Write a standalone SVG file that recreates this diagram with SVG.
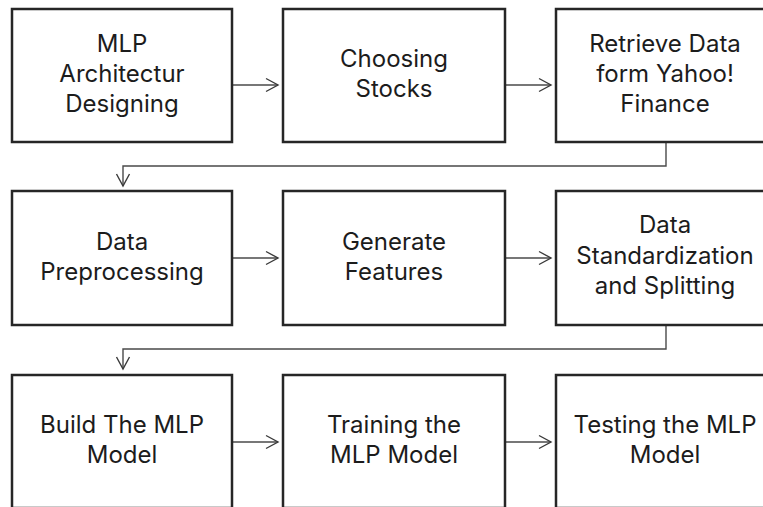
<svg xmlns="http://www.w3.org/2000/svg" width="763" height="507" viewBox="0 0 763 507">
<defs>
<style>
.box{fill:#ffffff;stroke:#262626;stroke-width:2.5}
.lbl{font-family:"Inter","Noto Sans","Liberation Sans",sans-serif;font-size:24px;fill:#1c1c1c;text-anchor:middle}
.conn{fill:none;stroke:#4a4a4a;stroke-width:1.4}
</style>
<marker id="arr" markerUnits="userSpaceOnUse" markerWidth="16" markerHeight="16" viewBox="0 0 16 16" refX="13" refY="8" orient="auto">
<path d="M1,1.5 L13,8 L1,14.5" fill="none" stroke="#3a3a3a" stroke-width="1.4"/>
</marker>
</defs>
<rect width="763" height="507" fill="#ffffff"/>
<g id="connectors">
<line class="conn" x1="232" y1="85" x2="278" y2="85" marker-end="url(#arr)"/>
<line class="conn" x1="505" y1="85" x2="551" y2="85" marker-end="url(#arr)"/>
<polyline class="conn" points="666,142 666,166 123,166 123,186" marker-end="url(#arr)"/>
<line class="conn" x1="232" y1="258" x2="278" y2="258" marker-end="url(#arr)"/>
<line class="conn" x1="505" y1="258" x2="551" y2="258" marker-end="url(#arr)"/>
<polyline class="conn" points="666,325 666,349 123,349 123,369" marker-end="url(#arr)"/>
<line class="conn" x1="232" y1="442" x2="278" y2="442" marker-end="url(#arr)"/>
<line class="conn" x1="505" y1="442" x2="551" y2="442" marker-end="url(#arr)"/>
</g>
<g id="n1"><rect class="box" x="12" y="9" width="220" height="133"/>
<text class="lbl" x="122" y="52">MLP</text><text class="lbl" x="122" y="82">Architectur</text><text class="lbl" x="122" y="112">Designing</text></g>
<g id="n2"><rect class="box" x="283" y="9" width="222" height="133"/>
<text class="lbl" x="394" y="67">Choosing</text><text class="lbl" x="394" y="97">Stocks</text></g>
<g id="n3"><rect class="box" x="556" y="9" width="218" height="133"/>
<text class="lbl" x="665" y="52">Retrieve Data</text><text class="lbl" x="665" y="82">form Yahoo!</text><text class="lbl" x="665" y="112">Finance</text></g>
<g id="n4"><rect class="box" x="12" y="191" width="220" height="134"/>
<text class="lbl" x="122" y="250">Data</text><text class="lbl" x="122" y="280">Preprocessing</text></g>
<g id="n5"><rect class="box" x="283" y="191" width="222" height="134"/>
<text class="lbl" x="394" y="250">Generate</text><text class="lbl" x="394" y="280">Features</text></g>
<g id="n6"><rect class="box" x="556" y="191" width="218" height="134"/>
<text class="lbl" x="665" y="233">Data</text><text class="lbl" x="665" y="264">Standardization</text><text class="lbl" x="665" y="294">and Splitting</text></g>
<g id="n7"><rect class="box" x="12" y="375" width="220" height="133"/>
<text class="lbl" x="122" y="433">Build The MLP</text><text class="lbl" x="122" y="463">Model</text></g>
<g id="n8"><rect class="box" x="283" y="375" width="222" height="133"/>
<text class="lbl" x="394" y="433">Training the</text><text class="lbl" x="394" y="463">MLP Model</text></g>
<g id="n9"><rect class="box" x="556" y="375" width="218" height="133"/>
<text class="lbl" x="665" y="433">Testing the MLP</text><text class="lbl" x="665" y="463">Model</text></g>
</svg>
